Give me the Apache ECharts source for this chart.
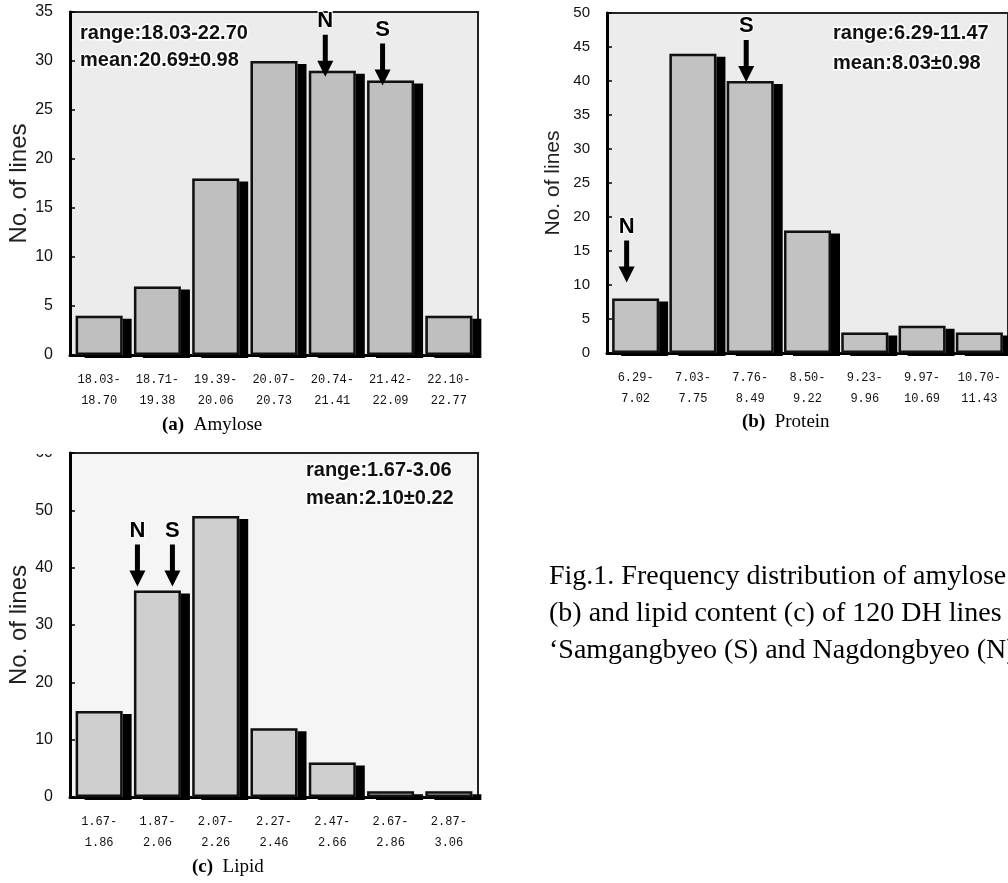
<!DOCTYPE html>
<html>
<head>
<meta charset="utf-8">
<script src="https://cdn.jsdelivr.net/npm/echarts@6/dist/echarts.min.js"></script>
<style>
html, body { margin: 0; padding: 0; background: #fff; }
#main { width: 1008px; height: 883px; }
</style>
</head>
<body>
<div id="main"></div>
<script>
// class intervals and counts (120 DH lines in each panel)
var amyloseBins = ['18.03-\n18.70', '18.71-\n19.38', '19.39-\n20.06', '20.07-\n20.73', '20.74-\n21.41', '21.42-\n22.09', '22.10-\n22.77'];
var amyloseCounts = [4, 7, 18, 30, 29, 28, 4];
var proteinBins = ['6.29-\n7.02', '7.03-\n7.75', '7.76-\n8.49', '8.50-\n9.22', '9.23-\n9.96', '9.97-\n10.69', '10.70-\n11.43'];
var proteinCounts = [8, 44, 40, 18, 3, 4, 3];
var lipidBins = ['1.67-\n1.86', '1.87-\n2.06', '2.07-\n2.26', '2.27-\n2.46', '2.47-\n2.66', '2.67-\n2.86', '2.87-\n3.06'];
var lipidCounts = [15, 36, 49, 12, 6, 1, 1];

// y axis ranges [max, step]
var amyloseAxis = [35, 5];
var proteinAxis = [50, 5];
var lipidAxis = [60, 10];

// parents marked with arrows: [label, bin index]
var amyloseParents = [['N', 4], ['S', 5]];
var proteinParents = [['S', 2], ['N', 0]];
var lipidParents = [['N', 1], ['S', 1]];

var amyloseStats = ['range:18.03-22.70', 'mean:20.69±0.98'];
var proteinStats = ['range:6.29-11.47', 'mean:8.03±0.98'];
var lipidStats = ['range:1.67-3.06', 'mean:2.10±0.22'];

var dom = document.getElementById('main');
var myChart = echarts.init(dom, null, { renderer: 'canvas' });

var SANS = '"Liberation Sans", Arial, sans-serif';
var SERIF = '"Liberation Serif", "Times New Roman", serif';
var arrowPath = 'path://M5.5,0L10.5,0L10.5,26L16,26L8,42L0,26L5.5,26Z';

// arrow offsets (dx from bin centre, dy of tip below bar top) - styling only
var arrowNudge = {
    a: [[-7, 6], [-8, 5]],
    b: [[-4, 1], [-9, -16]],
    c: [[-20, -4], [15, -4]]
};

var grids = [], xAxes = [], yAxes = [], series = [];

function addPanel(k, box, bins, counts, axis, parents, nudge, opts) {
    grids.push({
        left: box[0], top: box[1], width: box[2], height: box[3],
        show: true, backgroundColor: opts.bg,
        borderColor: '#222', borderWidth: 2
    });
    xAxes.push({
        type: 'category', gridIndex: k, data: bins,
        axisTick: { show: false },
        axisLine: { lineStyle: { color: '#000', width: 3 } },
        axisLabel: {
            color: '#111', fontFamily: '"Liberation Mono", monospace',
            fontSize: 12, lineHeight: 21, margin: 14, interval: 0
        }
    });
    yAxes.push({
        type: 'value', gridIndex: k, min: 0, max: axis[0], interval: axis[1],
        name: 'No. of lines', nameLocation: 'middle', nameGap: opts.nameGap,
        nameTextStyle: { color: '#222', fontSize: opts.nameSize, fontFamily: SANS },
        splitLine: { show: false },
        axisLine: { show: true, lineStyle: { color: '#000', width: 3 } },
        axisTick: { show: true, inside: true, length: 5, lineStyle: { color: '#000', width: 1.5 } },
        axisLabel: { color: '#111', fontSize: opts.labelSize, fontFamily: SANS, margin: 17 }
    });
    // filled box with a hard black drop shadow
    series.push({
        type: 'bar', xAxisIndex: k, yAxisIndex: k, z: 2,
        data: counts, barWidth: 47, barGap: '-100%',
        itemStyle: {
            color: opts.fill, borderWidth: 0,
            shadowColor: '#000', shadowBlur: 0, shadowOffsetX: 9, shadowOffsetY: 3
        },
        markPoint: {
            symbol: arrowPath,
            symbolSize: [16, 42],
            itemStyle: { color: '#000' },
            label: {
                show: true, position: 'top', distance: 3, formatter: '{b}',
                color: '#000', fontSize: 22, fontWeight: 'bold', fontFamily: SANS,
                textBorderColor: '#fff', textBorderWidth: 2
            },
            data: parents.map(function (p, i) {
                return {
                    name: p[0],
                    coord: [p[1], counts[p[1]]],
                    symbolOffset: [nudge[i][0], -21 + nudge[i][1]]
                };
            })
        }
    });
    // outline of the same bars, no shadow
    series.push({
        type: 'bar', xAxisIndex: k, yAxisIndex: k, z: 3,
        data: counts, barWidth: 47, barGap: '-100%', silent: true,
        itemStyle: { color: 'rgba(0,0,0,0)', borderColor: '#111', borderWidth: 2.5 }
    });
}

addPanel(0, [70, 12, 408, 343], amyloseBins, amyloseCounts, amyloseAxis, amyloseParents, arrowNudge.a,
    { bg: '#ececec', fill: '#bfbfbf', nameGap: 38, nameSize: 24, labelSize: 16 });
addPanel(1, [607, 13, 406, 340], proteinBins, proteinCounts, proteinAxis, proteinParents, arrowNudge.b,
    { bg: '#ececec', fill: '#c2c2c2', nameGap: 43, nameSize: 21, labelSize: 15 });
addPanel(2, [70, 453, 408, 344], lipidBins, lipidCounts, lipidAxis, lipidParents, arrowNudge.c,
    { bg: '#f5f5f5', fill: '#cfcfcf', nameGap: 38, nameSize: 24, labelSize: 16 });

function statText(x, y, txt) {
    return {
        type: 'text', x: x, y: y, z: 100,
        style: {
            text: txt, fill: '#111', font: 'bold 20px ' + SANS,
            stroke: '#fff', lineWidth: 3, verticalAlign: 'middle'
        }
    };
}
function plainText(x, y, txt, font) {
    return {
        type: 'text', x: x, y: y, z: 100,
        style: {
            text: txt, fill: '#000', font: font, verticalAlign: 'middle',
            rich: { b: { fontWeight: 'bold', fontFamily: SERIF, fontSize: 19 } }
        }
    };
}

var graphics = [
    statText(80, 33, amyloseStats[0]), statText(80, 60, amyloseStats[1]),
    statText(833, 33, proteinStats[0]), statText(833, 63, proteinStats[1]),
    statText(306, 470, lipidStats[0]), statText(306, 498, lipidStats[1]),
    plainText(162, 425, '{b|(a)}  Amylose', '19px ' + SERIF),
    plainText(742, 422, '{b|(b)}  Protein', '19px ' + SERIF),
    plainText(192, 867, '{b|(c)}  Lipid', '19px ' + SERIF),
    plainText(549, 577, 'Fig.1. Frequency distribution of amylose', '28px ' + SERIF),
    plainText(549, 614, '(b) and lipid content (c) of 120 DH lines', '28px ' + SERIF),
    plainText(549, 651, '\u2018Samgangbyeo (S) and Nagdongbyeo (N)', '28px ' + SERIF),
    // the top label of panel (c) is half hidden in the original scan
    { type: 'rect', z: 100, shape: { x: 26, y: 438, width: 38, height: 16 }, style: { fill: '#fff' } }
];

var option = {
    backgroundColor: '#fff',
    animation: false,
    grid: grids,
    xAxis: xAxes,
    yAxis: yAxes,
    series: series,
    graphic: graphics
};

if (option && typeof option === 'object') {
    myChart.setOption(option, true);
}
</script>
</body>
</html>
